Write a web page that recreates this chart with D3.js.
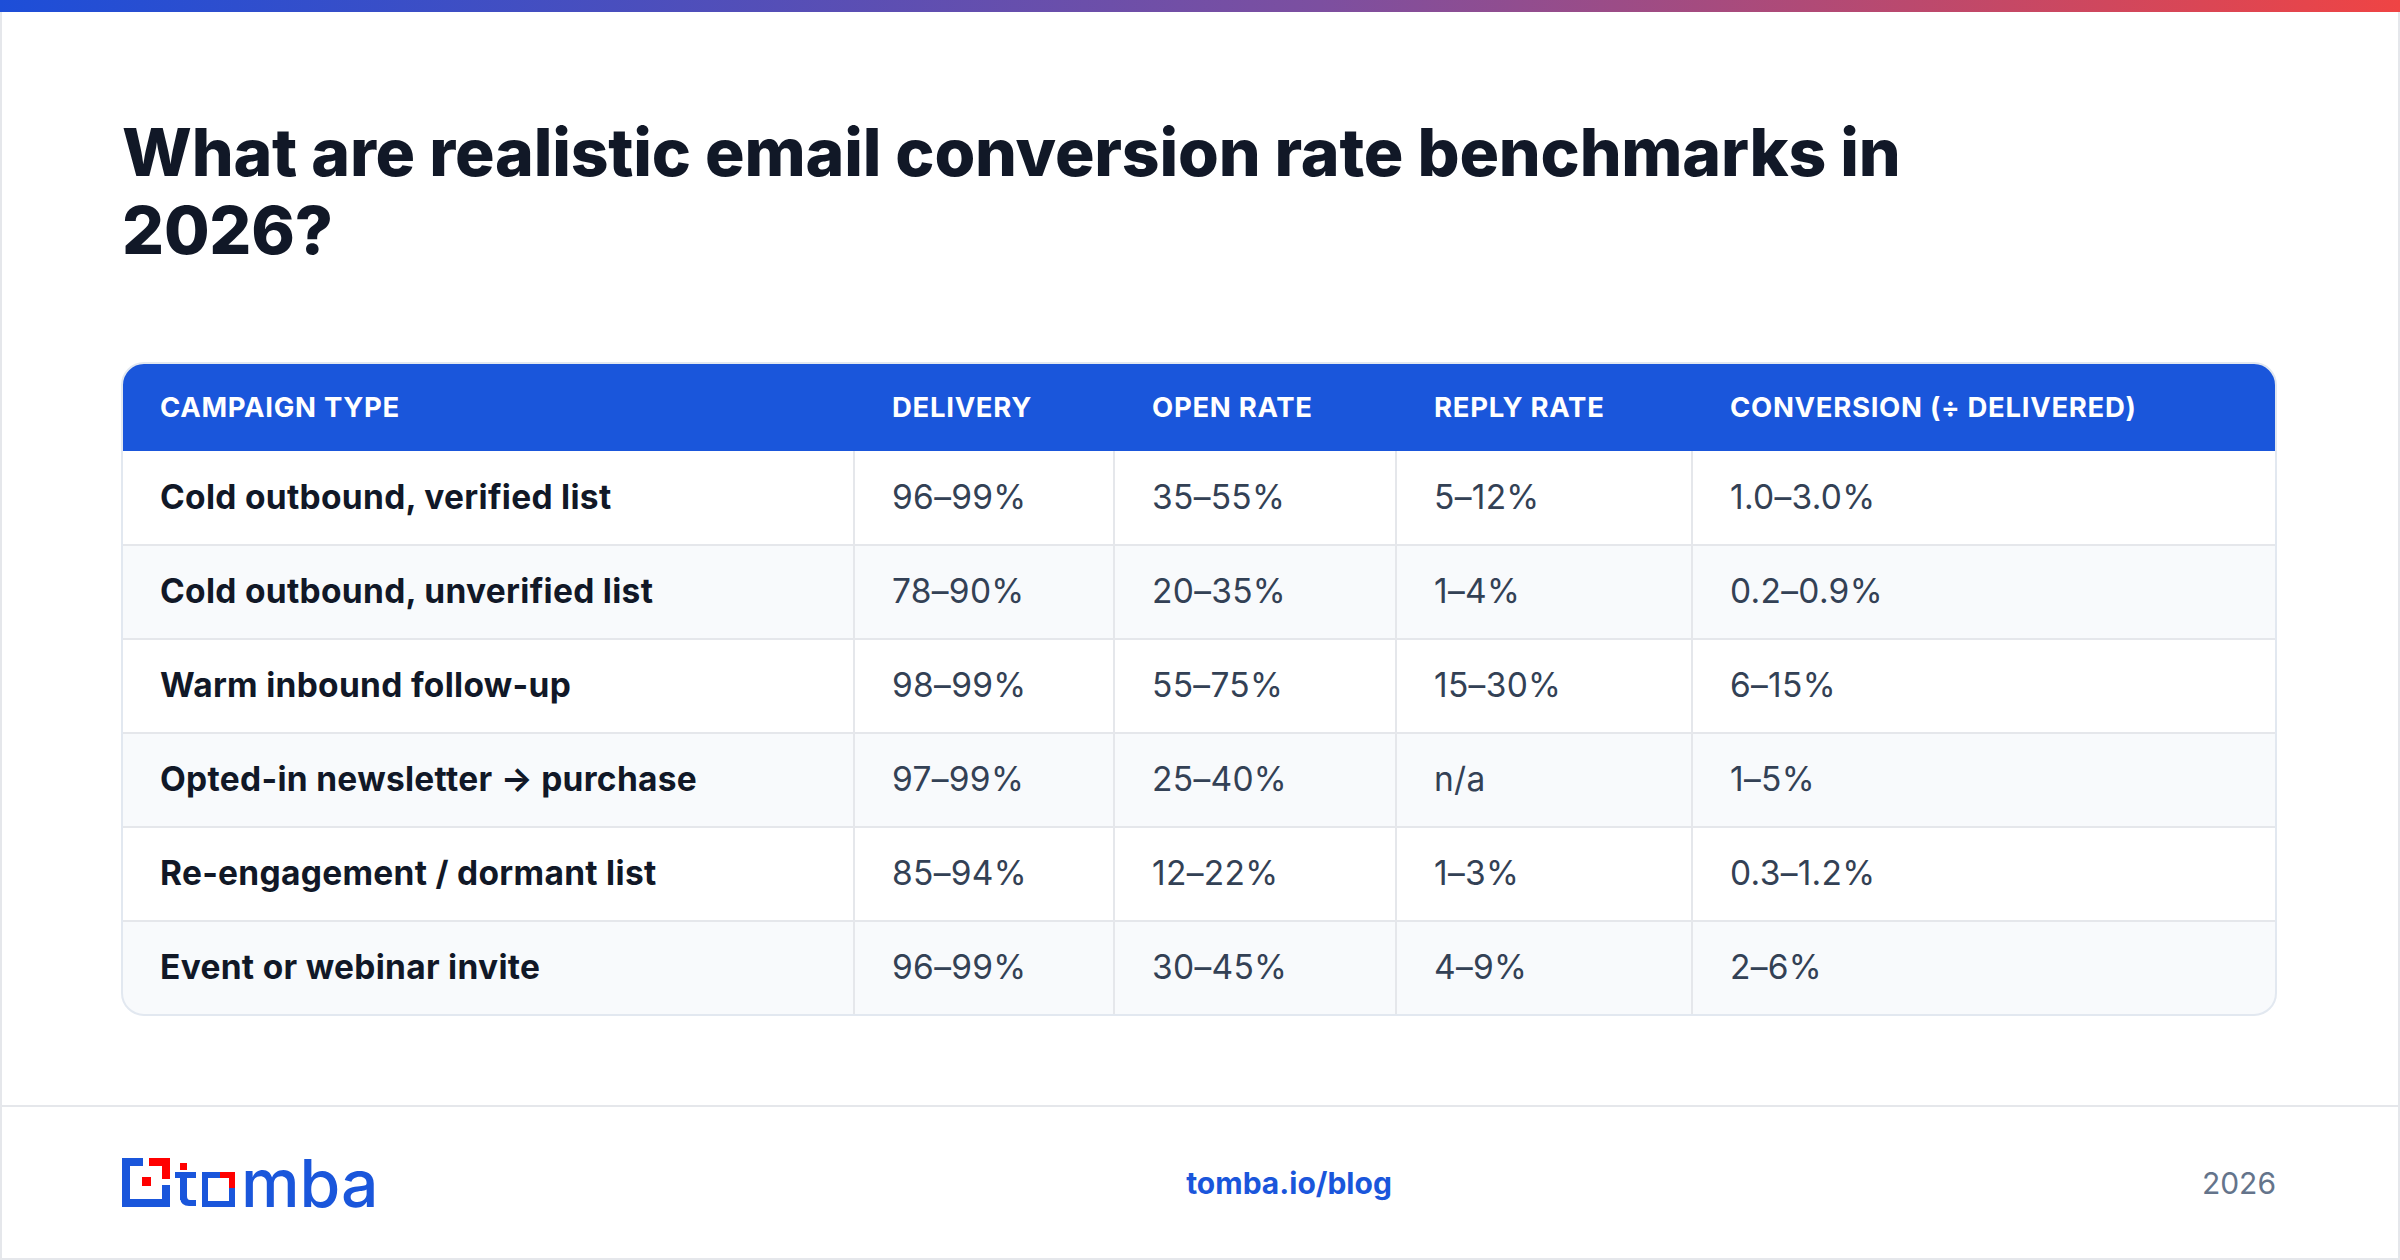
<!DOCTYPE html>
<html><head><meta charset="utf-8">
<script src="https://cdn.jsdelivr.net/npm/d3@7"></script>
<style>body{margin:0;background:#fff}svg{display:block}</style>
</head><body><svg id="c" width="2400" height="1260"></svg>
<script>
const title = ["What are realistic email conversion rate benchmarks in", "2026?"];
const columns = ["CAMPAIGN TYPE", "DELIVERY", "OPEN RATE", "REPLY RATE", "CONVERSION (÷ DELIVERED)"];
const campaigns = ["Cold outbound, verified list", "Cold outbound, unverified list", "Warm inbound follow-up", "Opted-in newsletter → purchase", "Re-engagement / dormant list", "Event or webinar invite"];
const delivery = ["96–99%", "78–90%", "98–99%", "97–99%", "85–94%", "96–99%"];
const openRate = ["35–55%", "20–35%", "55–75%", "25–40%", "12–22%", "30–45%"];
const replyRate = ["5–12%", "1–4%", "15–30%", "n/a", "1–3%", "4–9%"];
const conversion = ["1.0–3.0%", "0.2–0.9%", "6–15%", "1–5%", "0.3–1.2%", "2–6%"];

const svg = d3.select("#c");
const F = "Inter, 'Noto Sans', sans-serif";
const defs = svg.append("defs");
const g = defs.append("linearGradient").attr("id","tb");
g.append("stop").attr("offset","0%").attr("stop-color","#1d4ed8");
g.append("stop").attr("offset","55%").attr("stop-color","#7c4fa0");
g.append("stop").attr("offset","100%").attr("stop-color","#ef4444");

svg.append("rect").attr("x",1).attr("y",1).attr("width",2398).attr("height",1258).attr("fill","#fff").attr("stroke","#e5e7eb").attr("stroke-width",2);
svg.append("rect").attr("x",0).attr("y",0).attr("width",2400).attr("height",12).attr("fill","url(#tb)");

svg.selectAll("text.title").data(title).join("text").attr("class","title")
  .attr("x",122).attr("y",(d,i)=>176+i*78).attr("font-family",F).attr("font-weight",800)
  .attr("font-size",66).attr("fill","#111827").attr("letter-spacing","-0.2").text(d=>d);

const tx0 = 122, tx1 = 2276, ty0 = 363, headH = 88, rowH = 94;
const colEdges = [tx0, 854, 1114, 1396, 1692, tx1];
const y = d3.scaleBand().domain(d3.range(campaigns.length)).range([ty0+headH, ty0+headH+rowH*campaigns.length]);
const tH = headH + rowH*campaigns.length;
defs.append("clipPath").attr("id","tc").append("rect").attr("x",tx0).attr("y",ty0).attr("width",tx1-tx0).attr("height",tH).attr("rx",22);
const T = svg.append("g").attr("clip-path","url(#tc)");
T.append("rect").attr("x",tx0).attr("y",ty0).attr("width",tx1-tx0).attr("height",tH).attr("fill","#fff");
T.append("rect").attr("x",tx0).attr("y",ty0).attr("width",tx1-tx0).attr("height",headH).attr("fill","#1a56db");
T.selectAll("rect.row").data(d3.range(campaigns.length)).join("rect").attr("class","row")
  .attr("x",tx0).attr("y",d=>y(d)).attr("width",tx1-tx0).attr("height",rowH)
  .attr("fill",d=>d%2?"#f8fafc":"#ffffff");
T.selectAll("line.h").data(d3.range(1,campaigns.length)).join("line").attr("class","h")
  .attr("x1",tx0).attr("x2",tx1).attr("y1",d=>y(d)).attr("y2",d=>y(d)).attr("stroke","#e5e7eb").attr("stroke-width",2);
T.selectAll("line.v").data(colEdges.slice(1,-1)).join("line").attr("class","v")
  .attr("x1",d=>d).attr("x2",d=>d).attr("y1",ty0+headH).attr("y2",ty0+tH).attr("stroke","#e5e7eb").attr("stroke-width",2);
svg.append("rect").attr("x",tx0).attr("y",ty0).attr("width",tx1-tx0).attr("height",tH).attr("rx",22)
  .attr("fill","none").attr("stroke","#e2e8f0").attr("stroke-width",2);

svg.selectAll("text.hd").data(columns).join("text").attr("class","hd")
  .attr("x",(d,i)=>colEdges[i]+38).attr("y",ty0+headH/2+10).attr("font-family",F).attr("font-weight",700)
  .attr("font-size",27.5).attr("fill","#fff").attr("letter-spacing","0.7").text(d=>d);

const cols = [campaigns, delivery, openRate, replyRate, conversion];
cols.forEach((arr,ci)=>{
  svg.selectAll("text.c"+ci).data(arr).join("text").attr("class","c"+ci)
    .attr("x",colEdges[ci]+38).attr("y",(d,i)=>y(i)+rowH/2+11).attr("font-family",F)
    .attr("font-weight",ci===0?700:400).attr("font-size",33.5).attr("letter-spacing","0.3")
    .attr("fill",ci===0?"#111827":"#334155").text(d=>d);
});

svg.append("line").attr("x1",0).attr("x2",2400).attr("y1",1106).attr("y2",1106).attr("stroke","#e5e7eb").attr("stroke-width",2);
const L = svg.append("g");
const blue="#1a56db", red="#ff0000";
[[122,1158,8,49],[122,1199,48,8],[122,1158,21,8],[162,1185,8,22]].forEach(r=>L.append("rect").attr("x",r[0]).attr("y",r[1]).attr("width",r[2]).attr("height",r[3]).attr("fill",blue));
[[149,1158,21,8],[162,1158,8,21],[142,1177,9,9]].forEach(r=>L.append("rect").attr("x",r[0]).attr("y",r[1]).attr("width",r[2]).attr("height",r[3]).attr("fill",red));
L.append("rect").attr("x",180).attr("y",1163).attr("width",7).attr("height",7).attr("fill",red);
L.append("rect").attr("x",180).attr("y",1172).attr("width",7).attr("height",28).attr("fill",blue);
L.append("rect").attr("x",175).attr("y",1172).attr("width",21).attr("height",6).attr("fill",blue);
L.append("path").attr("d","M180,1198 Q181,1206 189,1206 L196,1206 L196,1200 L190,1200 Q187,1200 187,1196 Z").attr("fill",blue);
L.append("rect").attr("x",205).attr("y",1175).attr("width",27).attr("height",29).attr("fill","none").attr("stroke",blue).attr("stroke-width",6);
L.append("rect").attr("x",220).attr("y",1172).attr("width",15).attr("height",6).attr("fill",red);
L.append("rect").attr("x",229).attr("y",1172).attr("width",6).attr("height",16).attr("fill",red);
L.append("text").attr("x",241).attr("y",1207).attr("font-family",F).attr("font-weight",500).attr("font-size",66)
  .attr("fill",blue).attr("letter-spacing","0").text("mba");

svg.append("text").attr("x",1289).attr("y",1194).attr("text-anchor","middle").attr("font-family",F).attr("font-weight",700)
  .attr("font-size",30).attr("fill","#1a56db").text("tomba.io/blog");
svg.append("text").attr("x",2276).attr("y",1194).attr("text-anchor","end").attr("font-family",F).attr("font-weight",400)
  .attr("font-size",30).attr("fill","#64748b").text("2026");
</script></body></html>
